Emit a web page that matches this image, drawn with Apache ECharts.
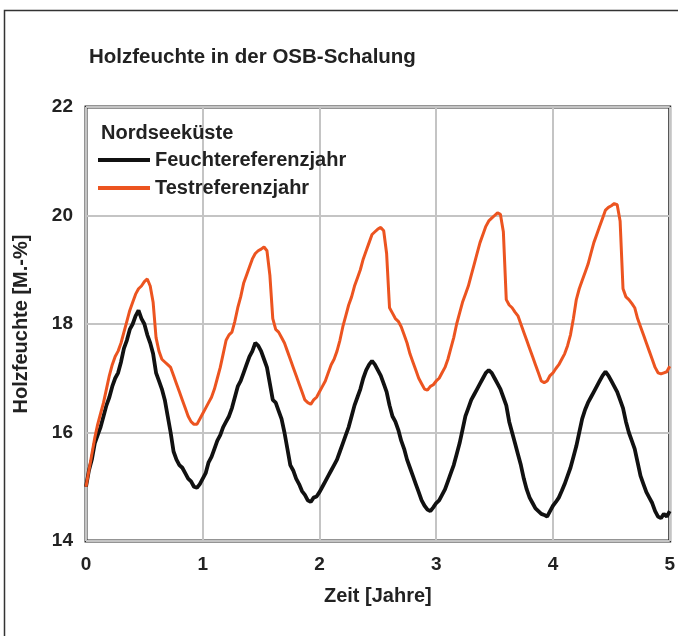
<!DOCTYPE html>
<html>
<head>
<meta charset="utf-8">
<script src="https://cdn.jsdelivr.net/npm/echarts@6/dist/echarts.min.js"></script>
<style>
html,body{margin:0;padding:0;background:#fff;}
#c{width:678px;height:636px;}
</style>
</head>
<body>
<div id="c"></div>
<script>
// Time in years (step 0.025)
const years = [];
for (let i = 0; i <= 200; i++) years.push(+(i * 0.025).toFixed(3));

const xTicks = [0, 1, 2, 3, 4, 5];
const yTicks = [14, 16, 18, 20, 22];

// Feuchtereferenzjahr (black)
const feuchte = [
  15.0, 15.3, 15.5, 15.8, 15.95, 16.1, 16.3, 16.5, 16.65, 16.85,
  17.0, 17.1, 17.3, 17.55, 17.7, 17.9, 18.0, 18.15, 18.25, 18.1,
  18.0, 17.8, 17.65, 17.45, 17.1, 16.95, 16.8, 16.6, 16.3, 16.0,
  15.65, 15.5, 15.4, 15.35, 15.25, 15.15, 15.1, 15.0, 14.98, 15.05,
  15.15, 15.25, 15.45, 15.55, 15.7, 15.85, 15.95, 16.1, 16.2, 16.3,
  16.45, 16.65, 16.85, 16.95, 17.1, 17.25, 17.4, 17.5, 17.65, 17.6,
  17.5, 17.35, 17.2, 16.9, 16.6, 16.55, 16.4, 16.25, 16.0, 15.7,
  15.4, 15.3, 15.15, 15.05, 14.92, 14.85, 14.75, 14.72, 14.8, 14.82,
  14.9, 15.0, 15.1, 15.2, 15.3, 15.4, 15.5, 15.65, 15.8, 15.95,
  16.1, 16.3, 16.5, 16.65, 16.8, 17.0, 17.15, 17.25, 17.32, 17.25,
  17.15, 17.05, 16.9, 16.75, 16.5, 16.3, 16.2, 16.05, 15.85, 15.7,
  15.5, 15.35, 15.2, 15.05, 14.9, 14.75, 14.65, 14.58, 14.55, 14.62,
  14.7, 14.75, 14.85, 14.95, 15.1, 15.25, 15.4, 15.6, 15.8, 16.05,
  16.3, 16.45, 16.6, 16.7, 16.8, 16.9, 17.0, 17.1, 17.15, 17.1,
  17.0, 16.9, 16.8, 16.65, 16.5, 16.2, 16.0, 15.8, 15.6, 15.4,
  15.15, 14.95, 14.8, 14.7, 14.6, 14.55, 14.5, 14.48, 14.45, 14.55,
  14.65, 14.72, 14.8, 14.92, 15.05, 15.2, 15.35, 15.55, 15.75, 16.0,
  16.25, 16.42, 16.55, 16.65, 16.75, 16.85, 16.95, 17.05, 17.12, 17.05,
  16.95, 16.85, 16.75, 16.6, 16.45, 16.2, 16.0, 15.85, 15.7, 15.45,
  15.2, 15.05, 14.9, 14.8, 14.7, 14.55, 14.45, 14.42, 14.5, 14.45,
  14.55
];

// Testreferenzjahr (orange)
const test = [
  15.0, 15.3, 15.6, 15.9, 16.15, 16.35, 16.55, 16.8, 17.05, 17.25,
  17.4, 17.5, 17.65, 17.85, 18.05, 18.25, 18.4, 18.55, 18.65, 18.7,
  18.78, 18.83, 18.7, 18.4, 17.75, 17.5, 17.35, 17.3, 17.25, 17.2,
  17.05, 16.9, 16.75, 16.6, 16.45, 16.3, 16.2, 16.15, 16.15, 16.25,
  16.35, 16.45, 16.55, 16.65, 16.8, 17.0, 17.2, 17.45, 17.7, 17.8,
  17.85, 18.05, 18.3, 18.5, 18.75, 18.9, 19.05, 19.2, 19.3, 19.35,
  19.38, 19.42, 19.35, 18.9, 18.1, 17.9, 17.85, 17.75, 17.65, 17.5,
  17.35, 17.2, 17.05, 16.9, 16.75, 16.6, 16.55, 16.52, 16.6, 16.65,
  16.75, 16.85, 16.95, 17.1, 17.25, 17.35, 17.5, 17.7, 17.95, 18.15,
  18.35, 18.5, 18.7, 18.85, 19.0, 19.2, 19.35, 19.5, 19.65, 19.7,
  19.75, 19.78, 19.72, 19.3, 18.3, 18.2, 18.1, 18.05, 17.95, 17.8,
  17.65, 17.45, 17.3, 17.15, 17.0, 16.9, 16.8, 16.78, 16.85, 16.88,
  16.95, 17.0, 17.1, 17.2, 17.35, 17.55, 17.75, 18.0, 18.2, 18.4,
  18.55, 18.7, 18.9, 19.1, 19.3, 19.5, 19.65, 19.8, 19.9, 19.95,
  20.0, 20.05, 20.02, 19.7, 18.45, 18.35, 18.3, 18.22, 18.15, 18.0,
  17.85, 17.7, 17.55, 17.4, 17.25, 17.1, 16.95, 16.92, 16.95, 17.05,
  17.1, 17.18, 17.25, 17.35, 17.45, 17.6, 17.8, 18.1, 18.45, 18.65,
  18.8, 18.95, 19.1, 19.3, 19.5, 19.65, 19.8, 19.95, 20.1, 20.15,
  20.18, 20.22, 20.2, 19.9, 18.65, 18.5, 18.45, 18.38, 18.3, 18.1,
  17.95, 17.8, 17.65, 17.5, 17.35, 17.2, 17.1, 17.08, 17.1, 17.12,
  17.22
];

const seriesNames = ['Feuchtereferenzjahr', 'Testreferenzjahr'];
const legendTitle = 'Nordseeküste';
const chartTitle = 'Holzfeuchte in der OSB-Schalung';
const xName = 'Zeit [Jahre]';
const yName = 'Holzfeuchte [M.-%]';

const FONT = '"Liberation Sans", Arial, sans-serif';
const TXT = '#222';
const pair = (arr) => years.map((t, i) => [t, arr[i]]);

const chart = echarts.init(document.getElementById('c'), null, {renderer: 'canvas'});
chart.setOption({
  animation: false,
  backgroundColor: '#fff',
  textStyle: {fontFamily: FONT},
  title: [
    {text: chartTitle, left: 89, top: 47, padding: 0,
     textStyle: {fontFamily: FONT, fontSize: 20.5, fontWeight: 'bold', color: TXT}},
    {text: legendTitle, left: 101, top: 123, padding: 0,
     textStyle: {fontFamily: FONT, fontSize: 20, fontWeight: 'bold', color: TXT}}
  ],
  legend: {
    orient: 'vertical',
    left: 98, top: 150, padding: 0,
    icon: 'rect',
    itemWidth: 52, itemHeight: 4, itemGap: 8,
    textStyle: {fontFamily: FONT, fontSize: 20, fontWeight: 'bold', color: TXT, lineHeight: 20},
    data: seriesNames
  },
  grid: {
    left: 86, right: 6, top: 107, bottom: 95,
    show: true, borderColor: '#2a2a2a', borderWidth: 3, containLabel: false
  },
  xAxis: {
    type: 'value', min: 0, max: 5, interval: 1,
    name: xName, nameLocation: 'middle', nameGap: 45,
    nameTextStyle: {fontFamily: FONT, fontSize: 20, fontWeight: 'bold', color: TXT},
    axisLine: {show: false}, axisTick: {show: false},
    axisLabel: {fontFamily: FONT, fontSize: 19, fontWeight: 'bold', color: TXT, margin: 14,
      customValues: xTicks},
    splitLine: {show: true, lineStyle: {color: '#c4c4c4', width: 2}}
  },
  yAxis: {
    type: 'value', min: 14, max: 22, interval: 2,
    name: yName, nameLocation: 'middle', nameGap: 55, nameRotate: 90,
    nameTextStyle: {fontFamily: FONT, fontSize: 20, fontWeight: 'bold', color: TXT},
    axisLine: {show: false}, axisTick: {show: false},
    axisLabel: {fontFamily: FONT, fontSize: 19, fontWeight: 'bold', color: TXT, margin: 13,
      customValues: yTicks},
    splitLine: {show: true, lineStyle: {color: '#c4c4c4', width: 2}}
  },
  graphic: [
    {type: 'polyline', silent: true, z: 100,
     shape: {points: [[4.5, 700], [4.5, 10.5], [700, 10.5]]},
     style: {stroke: '#333', lineWidth: 1.5, fill: null}}
  ],
  series: [
    {name: seriesNames[0], type: 'line', data: pair(feuchte), showSymbol: false, symbol: 'none',
     lineStyle: {color: '#111', width: 3.8}, itemStyle: {color: '#111'}, z: 3},
    {name: seriesNames[1], type: 'line', data: pair(test), showSymbol: false, symbol: 'none',
     lineStyle: {color: '#ec5420', width: 3}, itemStyle: {color: '#ec5420'}, z: 4}
  ]
});
</script>
</body>
</html>
